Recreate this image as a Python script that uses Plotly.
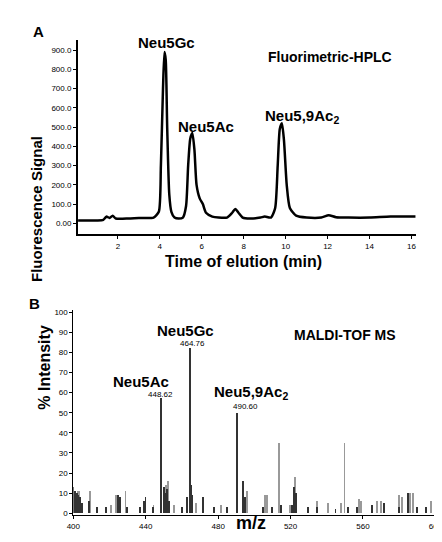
import plotly.graph_objects as go

# Panel A: HPLC chromatogram
time_min = [0.1,1.0,1.3,1.45,1.6,1.75,1.9,2.5,3.0,3.7,3.95,4.05,4.15,4.22,4.28,4.35,4.45,4.55,4.7,4.9,5.1,5.25,5.35,5.45,5.55,5.65,5.75,5.9,6.05,6.2,6.5,6.8,7.2,7.45,7.6,7.75,7.95,8.3,8.8,9.0,9.3,9.5,9.62,9.72,9.82,9.92,10.05,10.2,10.5,11.0,11.7,12.05,12.4,13,14,15,16.2]
signal = [15,15,18,35,28,40,25,25,28,30,60,300,700,890,850,500,150,60,30,25,30,90,300,440,470,380,200,130,100,55,35,30,30,55,75,55,30,25,30,35,30,80,300,490,520,430,200,80,40,30,30,42,32,30,30,35,35]
y_tick_vals = [0,100,200,300,400,500,600,700,800,900]
y_tick_text = ["0.00","100.0","200.0","300.0","400.0","500.0","600.0","700.0","800.0","900.0"]

# Panel B: MALDI-TOF spectrum
mz_dark = [400,401,402,403,404,405,409,413,418,425,426,430,437,439,440,444,448.62,450,451,452,453,460,463,464.76,465,466,472,478,485,490.60,494,495,505,510,515,521,522,523,530,535,545,552,557,565,572,580,585,590,595]
int_dark = [13,11,10,9,8,5,6,3,3,9,8,3,3,6,8,3,57,13,10,12,6,3,8,82,14,9,8,3,3,50,16,8,3,3,4,4,13,10,3,3,2,3,3,4,5,3,10,3,3]
mz_gray = [402.5,403.5,409.5,421,424,429,444.5,450.5,451.5,452.5,456,464.9,468,482,496,506,507,514,520,522.5,535,541,548,550,558,559,568,570,580,582,586,588,598,600]
int_gray = [11,11,11,4,9,11,4,13,14,16,4,35,5,4,11,9,9,35,4,18,6,5,5,35,7,6,6,6,9,8,10,10,6,34]

bold = dict(family="Liberation Sans", color="black")
fig = go.Figure()
fig.add_trace(go.Scatter(x=time_min, y=signal, mode="lines", line=dict(color="black", width=2.5, shape="spline", smoothing=0.6), xaxis="x", yaxis="y", showlegend=False))
fig.add_trace(go.Bar(x=mz_gray, y=int_gray, width=0.5, marker=dict(color="#999999", line=dict(width=0)), xaxis="x2", yaxis="y2", showlegend=False))
fig.add_trace(go.Bar(x=mz_dark, y=int_dark, width=0.5, marker=dict(color="#333333", line=dict(width=0)), xaxis="x2", yaxis="y2", showlegend=False))

ax = dict(showgrid=False, zeroline=False, showline=True, linecolor="black", ticks="outside", tickcolor="black", ticklen=3, tickfont=dict(size=8, **bold))
fig.update_layout(
    width=442, height=542, margin=dict(l=0, r=0, t=0, b=0),
    paper_bgcolor="white", plot_bgcolor="white", bargap=0,
    xaxis=dict(domain=[0.147, 0.934], range=[0.1, 16.2], tickvals=[2,4,6,8,10,12,14,16], anchor="y", linewidth=2, **ax),
    yaxis=dict(domain=[0.583, 0.945], range=[-55, 955], tickvals=y_tick_vals, ticktext=y_tick_text, anchor="x", linewidth=2, **ax),
    xaxis2=dict(domain=[0.136, 0.982], range=[400, 600.5], tickvals=[400,440,480,520,560,600], anchor="y2", linewidth=1, **ax),
    yaxis2=dict(domain=[0.059, 0.441], range=[-1, 101], tickvals=list(range(0,101,10)), anchor="x2", linewidth=1, **ax),
)
def ann(x, y, t, size, xr="x", yr="y"):
    fig.add_annotation(x=x, y=y, xref=xr, yref=yr, text=t, showarrow=False, font=dict(size=size, **bold))
ann(4.33, 938, "<b>Neu5Gc</b>", 15)
ann(12.1, 866, "<b>Fluorimetric-HPLC</b>", 14)
ann(6.2, 505, "<b>Neu5Ac</b>", 15)
ann(10.8, 557, "<b>Neu5,9Ac<sub>2</sub></b>", 15)
ann(462, 91, "<b>Neu5Gc</b>", 15, "x2", "y2")
ann(466, 84.6, "464.76", 8, "x2", "y2")
ann(437.5, 65.6, "<b>Neu5Ac</b>", 15, "x2", "y2")
ann(448, 59, "448.62", 8, "x2", "y2")
ann(498, 60, "<b>Neu5,9Ac<sub>2</sub></b>", 15, "x2", "y2")
ann(495, 53, "490.60", 8, "x2", "y2")
ann(550, 88.5, "<b>MALDI-TOF MS</b>", 14, "x2", "y2")
def pann(x, y, t, size, angle=0):
    fig.add_annotation(x=x/442, y=1-y/542, xref="paper", yref="paper", text=t, showarrow=False, textangle=angle, font=dict(size=size, **bold))
pann(16, 11, "<b>A</b>", 15)
pann(12, 296, "<b>B</b>", 15)
pann(12, 125, "<b>Fluorescence Signal</b>", 15, -90)
pann(235, 254, "<b>Time of elution (min)</b>", 16)
pann(20, 405, "<b>% Intensity</b>", 16, -90)
pann(243, 530, "<b>m/z</b>", 18)
fig.write_html("out.html")
